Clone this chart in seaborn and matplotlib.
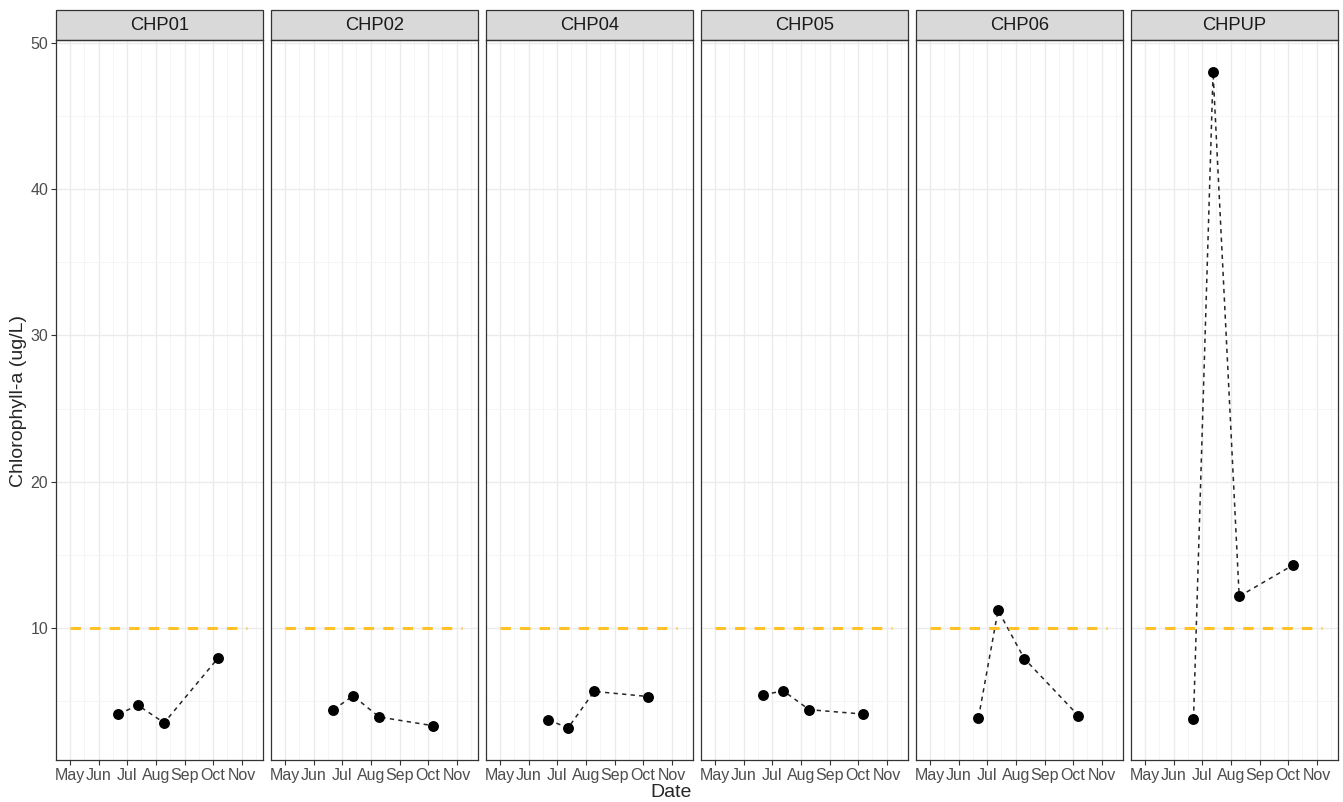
import numpy as np
import pandas as pd
import matplotlib
matplotlib.use("Agg")
import matplotlib.pyplot as plt
from matplotlib.patches import Rectangle
import seaborn as sns

# Sampling sites and dates
sites = ["CHP01", "CHP02", "CHP04", "CHP05", "CHP06", "CHPUP"]
sample_dates = ["2021-06-22", "2021-07-13", "2021-08-10", "2021-10-07"]

# Chlorophyll-a (ug/L) per site, in sampling-date order
chp01 = [4.1, 4.7, 3.5, 7.95]
chp02 = [4.4, 5.35, 3.9, 3.3]
chp04 = [3.7, 3.15, 5.65, 5.3]
chp05 = [5.4, 5.7, 4.4, 4.1]
chp06 = [3.85, 11.2, 7.9, 4.0]
chpup = [3.75, 48.0, 12.15, 14.3]

threshold = 10
threshold_span = ["2021-05-01", "2021-11-07"]
month_ticks = ["May", "Jun", "Jul", "Aug", "Sep", "Oct", "Nov"]

values = [chp01, chp02, chp04, chp05, chp06, chpup]
df = pd.DataFrame({
    "site": np.repeat(sites, len(sample_dates)),
    "date": pd.to_datetime(sample_dates * len(sites)),
    "chl": np.concatenate(values),
})

sns.set_theme(style="white")
plt.rcParams["font.family"] = ["Liberation Sans", "DejaVu Sans"]

g = sns.FacetGrid(df, col="site", col_order=sites, sharex=True, sharey=True,
                  height=7.2, aspect=0.29, despine=False)
g.map_dataframe(sns.lineplot, x="date", y="chl", color="#262626",
                linestyle=(0, (2.8, 2.8)), linewidth=1.1)
g.map_dataframe(sns.scatterplot, x="date", y="chl", color="black",
                s=62, edgecolor="black", linewidth=0, zorder=5)

fig = g.figure
fig.set_size_inches(13.43, 8.02)
fig.subplots_adjust(left=0.0417, right=0.9963, top=0.950, bottom=0.0524,
                    wspace=0.0386)

xlim = (pd.Timestamp("2021-04-21"), pd.Timestamp("2021-11-24"))
major_x = pd.date_range("2021-05-01", "2021-11-01", freq="MS")
minor_x = [d + pd.Timedelta(days=15) for d in pd.date_range("2021-04-01", "2021-11-01", freq="MS")]
span = pd.to_datetime(threshold_span)

for ax, site in zip(g.axes.flat, sites):
    ax.plot(span, [threshold, threshold], color="#FFC125", linewidth=2.2,
            linestyle=(0, (3.4, 3.0)), zorder=3)
    ax.set_xlim(*xlim)
    ax.set_ylim(0.96, 50.2)
    ax.set_xticks(major_x)
    ax.set_xticklabels(month_ticks)
    ax.set_xticks(minor_x, minor=True)
    ax.set_yticks([10, 20, 30, 40, 50])
    ax.set_yticks([5, 15, 25, 35, 45], minor=True)
    ax.grid(which="major", color="#EBEBEB", linewidth=1.0)
    ax.grid(which="minor", color="#F4F4F4", linewidth=0.6)
    ax.set_axisbelow(True)
    ax.tick_params(axis="both", which="major", length=3.5, width=0.8,
                   color="#333333", labelsize=11.5, labelcolor="#4D4D4D",
                   bottom=True, left=True, pad=2)
    ax.tick_params(which="minor", length=0)
    for sp in ax.spines.values():
        sp.set_color("#333333")
        sp.set_linewidth(0.9)
    ax.set_title("")
    ax.set_xlabel("")
    ax.set_ylabel("")
    # facet strip
    strip = Rectangle((0, 1), 1, 30 / 720, transform=ax.transAxes,
                      facecolor="#D9D9D9", edgecolor="#333333", linewidth=0.9,
                      clip_on=False)
    ax.add_patch(strip)
    ax.text(0.5, 1 + 15 / 720, site, transform=ax.transAxes, ha="center",
            va="center", fontsize=13.2, color="#1A1A1A")

for ax in g.axes.flat[1:]:
    ax.tick_params(axis="y", left=False, labelleft=False)

fig.text(0.5, 0.0115, "Date", ha="center", va="center", fontsize=14)
fig.text(0.0135, 0.5, "Chlorophyll-a (ug/L)", ha="center", va="center",
         rotation=90, fontsize=14)

fig.savefig("out.png", dpi=100)
